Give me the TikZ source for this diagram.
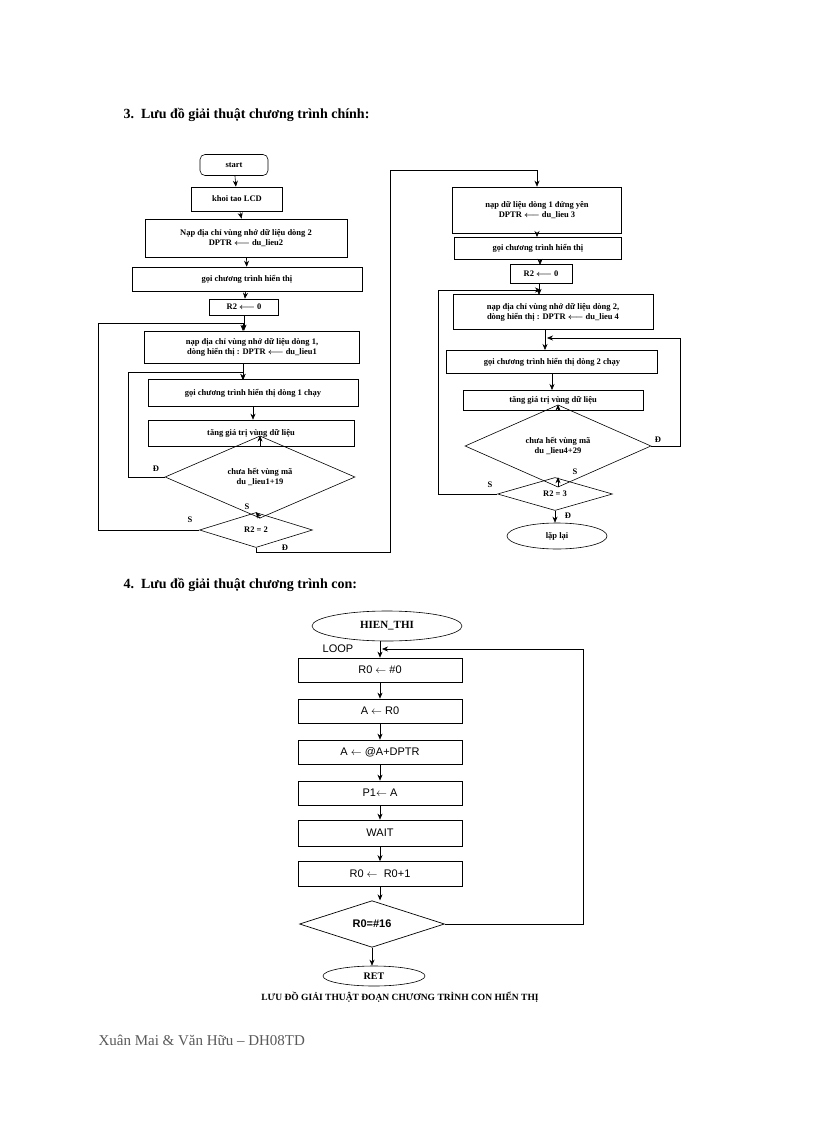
\documentclass[tikz,border=0pt]{standalone}
\usepackage{amsmath}
\usepackage{fontspec}
\setmainfont{Liberation Serif}
\newfontfamily\sansf{Liberation Sans}
\usetikzlibrary{shapes.geometric,arrows.meta}
\begin{document}
\begin{tikzpicture}[x=1pt,y=-1pt,
  bx/.style={draw,rectangle,inner sep=0pt,font=\bfseries\fontsize{8.5}{10}\selectfont,align=center,line width=0.6pt},
  dm/.style={draw,diamond,inner sep=0pt,font=\bfseries\fontsize{8.5}{10}\selectfont,align=center,line width=0.6pt},
  el/.style={draw,ellipse,inner sep=0pt,line width=0.6pt},
  sb/.style={draw,rectangle,inner sep=0pt,minimum width=164,minimum height=24,font=\sansf\fontsize{11}{13}\selectfont,line width=0.7pt},
  ar/.style={-{Stealth[length=6pt,width=5pt]},line width=0.6pt},
  lb/.style={font=\bfseries\fontsize{8.5}{10}\selectfont}]
\useasboundingbox (0,0) rectangle (816,1123);
\node[anchor=west,font=\bfseries\fontsize{14}{16}\selectfont] (h3) at (120,115) {3.\ \ Lưu đồ giải thuật chương trình chính:};
% left chart
\node[bx,rounded corners=5pt,minimum width=68,minimum height=21] (st) at (234,165) {start};
\node[bx,minimum width=91,minimum height=24] (kt) at (237,199) {khoi tao LCD};
\node[bx,minimum width=202,minimum height=38] (n2) at (246,238) {Nạp địa chỉ vùng nhớ dữ liệu dòng 2\\DPTR $\boldsymbol{\longleftarrow}$ du\_lieu2};
\node[bx,minimum width=230,minimum height=24] (g1) at (247,279) {gọi chương trình hiển thị};
\node[bx,minimum width=69,minimum height=16] (r0a) at (244,307) {R2 $\boldsymbol{\longleftarrow}$ 0};
\node[bx,minimum width=215,minimum height=32] (n1) at (252,347) {nạp địa chỉ vùng nhớ dữ liệu dòng 1,\\dòng hiển thị : DPTR $\boldsymbol{\longleftarrow}$ du\_lieu1};
\node[bx,minimum width=210,minimum height=27] (gc1) at (253,393) {gọi chương trình hiển thị dòng 1 chạy};
\node[bx,minimum width=206,minimum height=26] (t1) at (251,433) {tăng giá trị vùng dữ liệu};
\node[dm,minimum width=190,minimum height=44] (d1) at (260,477) {chưa hết vùng mã\\du \_lieu1+19};
\node[dm,minimum width=113,minimum height=35] (d2) at (256,530) {R2 = 2};
\draw[ar] (st) -- (kt);
\draw[ar] (kt) -- (n2);
\draw[ar] (n2) -- (g1);
\draw[ar] (g1) -- (r0a);
\draw[ar] (r0a.south) -- (r0a.south|-n1.north);
\draw[ar] (gc1.south) -- (gc1.south|-t1.north);
\draw[ar] (t1.south-|d1.north) -- (d1.north);
\draw[ar] (d1.south) -- (d2.north);
\coordinate (c1) at (128,372);
\draw[ar] (d1.west) -- (d1.west-|c1) -- (c1) -- (243,372) -- (243,380);
\draw[ar] (n1.south-|243,0) -- (243,380);
\coordinate (c2) at (98,323);
\draw[ar] (d2.west) -- (d2.west-|c2) -- (c2) -- (243,323) -- (243,331);
\node[lb] (l1) at (156,469) {Đ};
\node[lb] (l2) at (247,507) {S};
\node[lb] (l3) at (190,520) {S};
\node[lb] (l4) at (285,548) {Đ};
\coordinate (c3) at (256,552);
\coordinate (c4) at (390,552);
\coordinate (c5) at (390,170);
% right chart
\node[bx,minimum width=169,minimum height=46] (n3) at (537,210) {nạp dữ liệu dòng 1 đứng yên\\DPTR $\boldsymbol{\longleftarrow}$ du\_lieu 3};
\draw[ar] (d2.south) -- (c3) -- (c4) -- (c5) -- (c5-|n3.north) -- (n3.north);
\node[bx,minimum width=167,minimum height=22] (g2) at (538,248) {gọi chương trình hiển thị};
\node[bx,minimum width=62,minimum height=19] (r0b) at (541,274) {R2 $\boldsymbol{\longleftarrow}$ 0};
\node[bx,minimum width=200,minimum height=35] (n4) at (553,312) {nạp địa chỉ vùng nhớ dữ liệu dòng 2,\\dòng hiển thị : DPTR $\boldsymbol{\longleftarrow}$ du\_lieu 4};
\node[bx,minimum width=211,minimum height=23] (gc2) at (552,362) {gọi chương trình hiển thị dòng 2 chạy};
\node[bx,minimum width=180,minimum height=20] (t2) at (553,400) {tăng giá trị vùng dữ liệu};
\node[dm,minimum width=186,minimum height=46] (d3) at (558,446) {chưa hết vùng mã\\du \_lieu4+29};
\node[dm,minimum width=115,minimum height=33] (d4) at (555,494) {R2 = 3};
\node[el,minimum width=100,minimum height=26,font=\bfseries\fontsize{8.5}{10}\selectfont] (lap) at (557,536) {lặp lại};
\draw[ar] (n3.south-|537,0) -- (537,237);
\draw[ar] (g2.south-|540,0) -- (540,265);
\draw[ar] (r0b.south-|539,0) -- (539,295);
\draw[ar] (n4.south-|545,0) -- (545,350);
\draw[ar] (gc2.south-|552,0) -- (552,390);
\draw[ar] (t2.south-|d3.north) -- (d3.north);
\draw[ar] (d3.south) -- (d3.south|-d4.north);
\draw[ar] (d4.south) -- (d4.south|-lap.north);
\coordinate (c6) at (680,338);
\draw[ar] (d3.east) -- (d3.east-|c6) -- (c6) -- (547,338);
\coordinate (c7) at (438,290);
\draw[ar] (d4.west) -- (d4.west-|c7) -- (c7) -- (541,290);
\node[lb] (l5) at (658,440) {Đ};
\node[lb] (l6) at (575,472) {S};
\node[lb] (l7) at (490,485) {S};
\node[lb] (l8) at (568,516) {Đ};
% sub-program
\node[anchor=west,font=\bfseries\fontsize{14}{16}\selectfont] (h4) at (120,585) {4.\ \ Lưu đồ giải thuật chương trình con:};
\node[el,minimum width=150,minimum height=30,font=\bfseries\fontsize{11}{13}\selectfont] (ht) at (387,626) {HIEN\_THI};
\node[font=\sansf\fontsize{11}{13}\selectfont] (lp) at (338,649) {LOOP};
\node[sb] (b1) at (380,670) {R0 $\leftarrow$ \#0};
\node[sb] (b2) at (380,711) {A $\leftarrow$ R0};
\node[sb] (b3) at (380,752) {A $\leftarrow$ @A+DPTR};
\node[sb] (b4) at (380,793) {P1$\leftarrow$ A};
\node[sb,minimum height=26] (b5) at (380,833) {WAIT};
\node[sb,minimum height=25] (b6) at (380,874) {R0 $\leftarrow$\ \ R0+1};
\node[draw,diamond,inner sep=0pt,minimum width=145,minimum height=42,line width=0.7pt,font=\sansf\bfseries\fontsize{11}{13}\selectfont] (dd) at (372,924) {R0=\#16};
\node[el,minimum width=102,minimum height=20,font=\bfseries\fontsize{10}{12}\selectfont] (ret) at (374,976) {RET};
\draw[ar] (ht.south-|380,0) -- (b1.north);
\draw[ar] (b1) -- (b2);
\draw[ar] (b2) -- (b3);
\draw[ar] (b3) -- (b4);
\draw[ar] (b4) -- (b5);
\draw[ar] (b5) -- (b6);
\draw[ar] (b6.south) -- (b6.south|-dd.north);
\draw[ar] (dd.south) -- (dd.south|-ret.north);
\coordinate (c8) at (583,649);
\draw[ar] (dd.east) -- (dd.east-|c8) -- (c8) -- (382,649);
\node[font=\bfseries\fontsize{9.5}{11}\selectfont] (cap) at (400,997) {LƯU ĐỒ GIẢI THUẬT ĐOẠN CHƯƠNG TRÌNH CON HIỂN THỊ};
\node[anchor=west,text=black!65,font=\fontsize{15}{18}\selectfont] (ft) at (95,1040) {Xuân Mai \& Văn Hữu – DH08TD};
\end{tikzpicture}
\end{document}
